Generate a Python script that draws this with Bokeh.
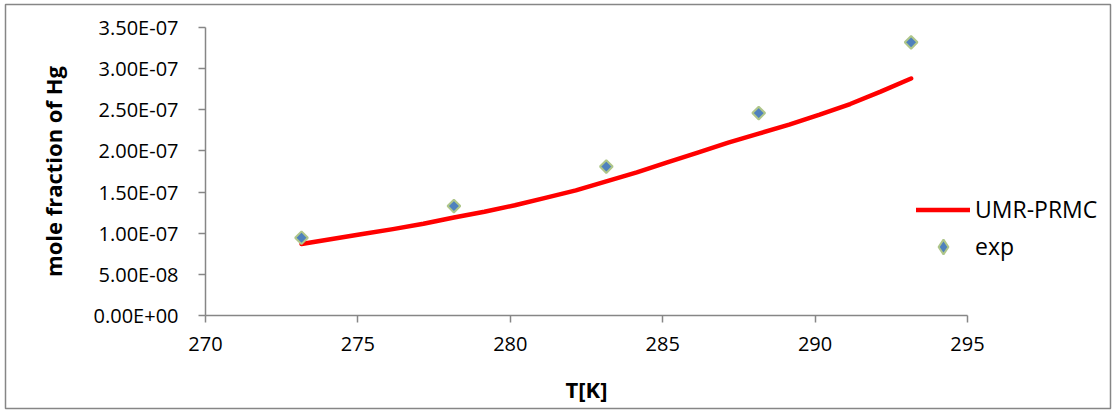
import math
from bokeh.plotting import figure
from bokeh.models import (FixedTicker, CustomJSTickFormatter, Legend, LegendItem, Label)
from bokeh.embed import file_html
from bokeh.resources import INLINE

# ---- data ----
T_model = [273.15, 274.15, 275.15, 276.15, 277.15, 278.15, 279.15, 280.15, 281.15, 282.15, 283.15,
           284.15, 285.15, 286.15, 287.15, 288.15, 289.15, 290.15, 291.15, 292.15, 293.15]
x_model = [0.87e-7, 0.93e-7, 0.99e-7, 1.05e-7, 1.115e-7, 1.19e-7, 1.26e-7, 1.34e-7, 1.43e-7, 1.52e-7, 1.63e-7,
           1.74e-7, 1.86e-7, 1.98e-7, 2.10e-7, 2.21e-7, 2.32e-7, 2.44e-7, 2.57e-7, 2.72e-7, 2.88e-7]
T_exp = [273.15, 278.15, 283.15, 288.15, 293.15]
x_exp = [0.945e-7, 1.33e-7, 1.81e-7, 2.46e-7, 3.32e-7]
x_ticks = [270, 275, 280, 285, 290, 295]
y_ticks = [0.0, 0.5e-7, 1.0e-7, 1.5e-7, 2.0e-7, 2.5e-7, 3.0e-7, 3.5e-7]
series_names = ["UMR-PRMC", "exp"]
x_title = "T[K]"
y_title = "mole fraction of Hg"

FONT = "Open Sans"
AXIS = "#868686"
X_MIN, X_MAX = 270, 295
Y_MIN, Y_MAX = 0, 3.5e-7

# ---- layout (pixels) ----
W, H = 1115, 412
FR_L, FR_R, FR_T, FR_B = 5, 1110, 4, 408       # outer chart border = plot frame
AX_L, AX_R, AX_T, AX_B = 205, 967, 27, 315      # axes box
sx = (AX_R - AX_L) / (X_MAX - X_MIN)
sy = (AX_B - AX_T) / (Y_MAX - Y_MIN)
x_range = (X_MIN - (AX_L - FR_L) / sx, X_MIN + (FR_R - AX_L) / sx)
y_range = (Y_MIN - (FR_B - AX_B) / sy, Y_MIN + (AX_B - FR_T) / sy)

p = figure(width=W, height=H, x_range=x_range, y_range=y_range,
           output_backend="svg", toolbar_location=None,
           min_border_left=FR_L, min_border_right=W - FR_R,
           min_border_top=FR_T, min_border_bottom=H - FR_B,
           background_fill_color="white", border_fill_color="white")
p.outline_line_color = AXIS
p.outline_line_width = 1.5
p.grid.visible = False

r_line = p.line(T_model, x_model, line_color="#FF0000", line_width=4.5,
                line_join="round", line_cap="round")
# legend swatch renderer (diamond), hidden under the rotated-square markers
r_exp_leg = p.scatter(T_exp, x_exp, marker="diamond", size=8,
                      fill_color="#4F81BD", line_color="#AFC68A", line_width=2)
r_exp = p.scatter(T_exp, x_exp, marker="square", size=9, angle=math.pi / 4,
                  fill_color="#4F81BD", line_color="#AFC68A", line_width=2)

p.xaxis.fixed_location = Y_MIN
p.yaxis.fixed_location = X_MIN
for ax in (p.xaxis[0], p.yaxis[0]):
    ax.axis_line_color = AXIS
    ax.axis_line_width = 1.5
    ax.major_tick_line_color = AXIS
    ax.major_tick_line_width = 1.5
    ax.major_tick_in = 0
    ax.major_tick_out = 7
    ax.minor_tick_line_color = None
    ax.major_label_text_font = FONT
    ax.major_label_text_font_size = "20px"
    ax.major_label_text_color = "black"

p.xaxis.bounds = (X_MIN, X_MAX)
p.yaxis.bounds = (Y_MIN, Y_MAX)
p.xaxis.ticker = FixedTicker(ticks=x_ticks)
p.yaxis.ticker = FixedTicker(ticks=y_ticks)
p.yaxis.formatter = CustomJSTickFormatter(code="""
var s = tick.toExponential(2).split('e');
var e = parseInt(s[1]);
var sign = e < 0 ? '-' : '+';
var a = Math.abs(e);
return s[0] + 'E' + sign + (a < 10 ? '0' : '') + a;
""")
p.xaxis.major_label_standoff = 14
p.yaxis.major_label_standoff = 20

# axis titles
p.add_layout(Label(x=(X_MIN + X_MAX) / 2, y=Y_MIN - (388 - AX_B) / sy, text=x_title,
                   text_font=FONT, text_font_size="22px", text_font_style="bold",
                   text_color="black", text_align="center", text_baseline="middle"))
p.add_layout(Label(x=X_MIN - (AX_L - 52) / sx, y=(Y_MIN + Y_MAX) / 2, text=y_title,
                   angle=math.pi / 2,
                   text_font=FONT, text_font_size="22px", text_font_style="bold",
                   text_color="black", text_align="center", text_baseline="middle"))

legend = Legend(items=[LegendItem(label=series_names[0], renderers=[r_line]),
                       LegendItem(label=series_names[1], renderers=[r_exp_leg])],
                location=(916 - FR_L, FR_B - 264.5), orientation="vertical")
legend.border_line_color = None
legend.background_fill_color = None
legend.background_fill_alpha = 0
legend.padding = 0
legend.margin = 0
legend.spacing = 0
legend.glyph_width = 54
legend.glyph_height = 37
legend.label_height = 37
legend.label_standoff = 5
legend.label_text_font = FONT
legend.label_text_font_size = "23px"
legend.label_text_color = "black"
p.add_layout(legend, "center")

open("out.html", "w").write(file_html(p, INLINE))
